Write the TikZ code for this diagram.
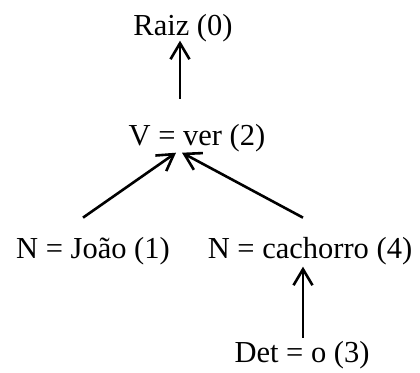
\documentclass[tikz,border=0pt]{standalone}
\usepackage{fontspec}
\setmainfont{Liberation Serif}
\usetikzlibrary{arrows.meta}
\begin{document}
\begin{tikzpicture}[x=1pt, y=-1pt,
  word/.style={anchor=base, inner sep=0pt, font=\fontsize{30.5}{36}\selectfont},
  dep/.style={-{Straight Barb[length=16pt,width=19pt]}, line width=2.6pt}]
\useasboundingbox (0,0) rectangle (420,372);
% words of the sentence
\node[word] (raiz)  at (183,35)  {Raiz (0)};
\node[word] (verbo) at (197,145) {V = ver (2)};
\node[word] (joao)  at (93,258)  {N = João (1)};
\node[word] (cao)   at (310,258) {N = cachorro (4)};
\node[word] (det)   at (302,362) {Det = o (3)};
% dependencies, head above
\draw[dep] ([xshift=-17pt,yshift=25pt]verbo.north) -- ([xshift=-3pt,yshift=1pt]raiz.south);
\draw[dep] ([xshift=-10pt,yshift=19pt]joao.north) -- ([xshift=-21pt,yshift=-1pt]verbo.south);
\draw[dep] ([xshift=-7pt,yshift=19pt]cao.north) -- ([xshift=-15pt,yshift=-1pt]verbo.south);
\draw[dep] ([xshift=1pt,yshift=3pt]det.north) -- ([xshift=-7pt,yshift=-2pt]cao.south);
\end{tikzpicture}
\end{document}
